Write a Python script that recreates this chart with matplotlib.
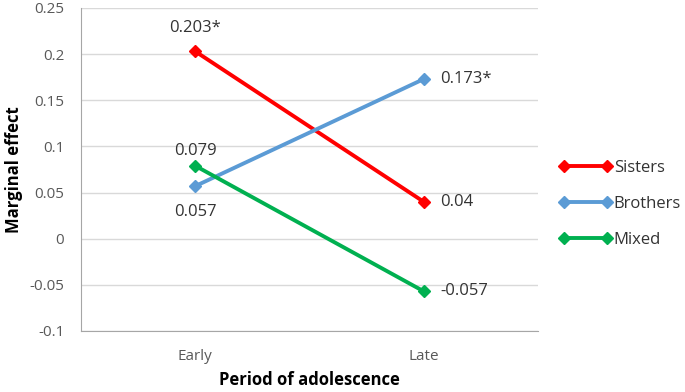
import matplotlib
matplotlib.use("Agg")
import matplotlib.pyplot as plt

categories = ["Early", "Late"]
sisters = [0.203, 0.04]
brothers = [0.057, 0.173]
mixed = [0.079, -0.057]
sisters_labels = ["0.203*", "0.04"]
brothers_labels = ["0.057", "0.173*"]
mixed_labels = ["0.079", "-0.057"]
yticks = [-0.1, -0.05, 0, 0.05, 0.1, 0.15, 0.2, 0.25]
ytick_labels = ["-0.1", "-0.05", "0", "0.05", "0.1", "0.15", "0.2", "0.25"]

plt.rcParams['font.family'] = ['Open Sans', 'DejaVu Sans']

fig = plt.figure(figsize=(6.85, 3.92), dpi=100)
ax = fig.add_axes([81/685, 1-331/392, (538-81)/685, (331-8)/392])

red = "#FF0000"
blue = "#5B9BD5"
green = "#00B050"
x = list(range(len(categories)))

for vals, col, name in [(sisters, red, "Sisters"), (brothers, blue, "Brothers"), (mixed, green, "Mixed")]:
    ax.plot(x, vals, color=col, lw=2.8, marker="D", ms=6.5, label=name, solid_capstyle="round")

tc = "#333333"
fs = 12
ax.annotate(sisters_labels[0], (0, sisters[0]), xytext=(0, 11), textcoords="offset points", ha="center", va="bottom", fontsize=fs, color=tc)
ax.annotate(sisters_labels[1], (1, sisters[1]), xytext=(12, 0), textcoords="offset points", ha="left", va="center", fontsize=fs, color=tc)
ax.annotate(brothers_labels[0], (0, brothers[0]), xytext=(0, -13), textcoords="offset points", ha="center", va="top", fontsize=fs, color=tc)
ax.annotate(brothers_labels[1], (1, brothers[1]), xytext=(12, 0), textcoords="offset points", ha="left", va="center", fontsize=fs, color=tc)
ax.annotate(mixed_labels[0], (0, mixed[0]), xytext=(0, 5), textcoords="offset points", ha="center", va="bottom", fontsize=fs, color=tc)
ax.annotate(mixed_labels[1], (1, mixed[1]), xytext=(12, 0), textcoords="offset points", ha="left", va="center", fontsize=fs, color=tc)

ax.set_xlim(-0.5, 1.5)
ax.set_ylim(-0.1, 0.25)
ax.set_yticks(yticks)
ax.set_yticklabels(ytick_labels)
ax.set_xticks(x)
ax.set_xticklabels(categories)
ax.tick_params(axis="both", length=0, labelsize=11, labelcolor="#595959")
ax.tick_params(axis="y", pad=12)
ax.tick_params(axis="x", pad=13)
ax.grid(axis="y", color="#D9D9D9", lw=1)
ax.set_axisbelow(True)
for s in ["top", "right"]:
    ax.spines[s].set_visible(False)
ax.spines["left"].set_color("#A6A6A6")
ax.spines["bottom"].set_color("#A6A6A6")

ax.set_ylabel("Marginal effect", fontsize=12, fontweight="bold", color="black", labelpad=5)
ax.set_xlabel("Period of adolescence", fontsize=12, fontweight="bold", color="black", labelpad=5)

leg = ax.legend(loc="center left", bbox_to_anchor=(552/685, 1-204/392), bbox_transform=fig.transFigure,
                frameon=False, numpoints=2, handlelength=3.2, handletextpad=0.1,
                labelspacing=1.2, fontsize=12, borderaxespad=0)
for t in leg.get_texts():
    t.set_color(tc)

fig.savefig("out.png", dpi=100)
